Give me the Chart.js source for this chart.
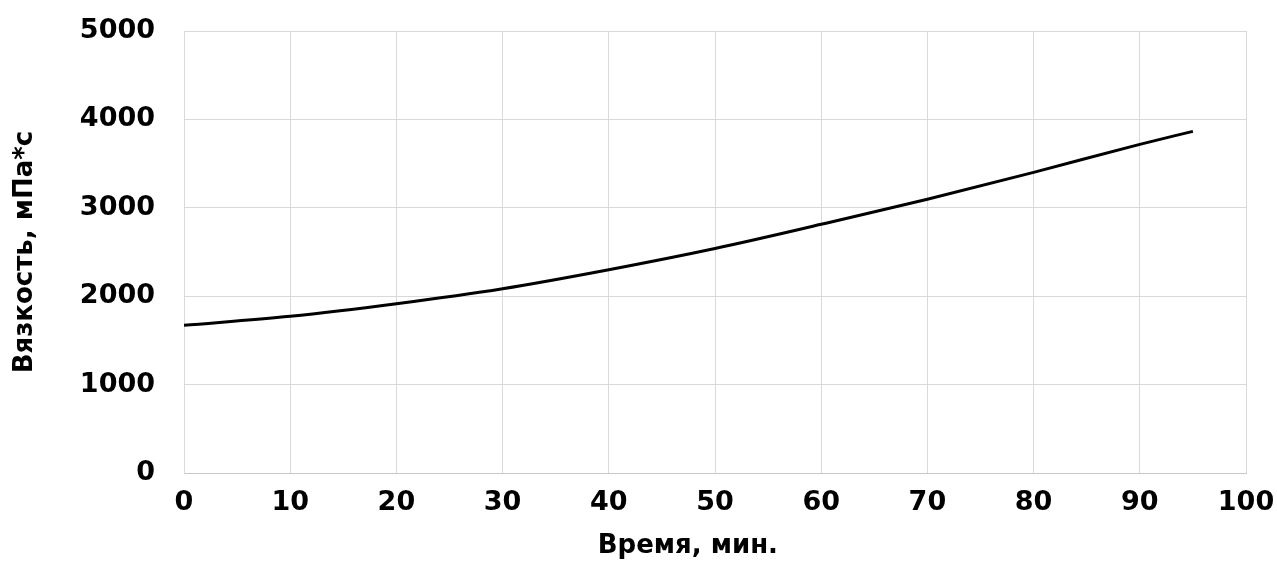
<!DOCTYPE html>
<html>
<head>
<meta charset="utf-8">
<script src="https://cdn.jsdelivr.net/npm/chart.js@4/dist/chart.umd.min.js"></script>
<style>
  html, body { margin: 0; padding: 0; background: #ffffff; }
  canvas { display: block; }
</style>
</head>
<body>
<canvas id="viscChart" width="1277" height="575"></canvas>
<script>
// time, min
var minutes = [0, 10, 20, 30, 40, 50, 60, 70, 80, 90, 95];
// viscosity, mPa*s
var viscosity = [1670, 1772, 1915, 2085, 2300, 2540, 2813, 3096, 3401, 3718, 3865];

var xTicks = [0, 10, 20, 30, 40, 50, 60, 70, 80, 90, 100];
var yTicks = [0, 1000, 2000, 3000, 4000, 5000];

var xTitle = 'Время, мин.';
var yTitle = 'Вязкость, мПа*с';

window.onload = function(){
    var points = minutes.map(function(m, i){ return {x: m, y: viscosity[i]}; });
    var ctx = document.getElementById("viscChart");
    var tickFont = {family: "'DejaVu Sans', sans-serif", size: 27, weight: 'bold'};
    var titleFont = {family: "'DejaVu Sans', sans-serif", size: 26, weight: 'bold'};
    var plain = function(v){ return String(v); };

    new Chart(ctx, {
    type: 'line',
    data: {
        datasets: [
        {
            data: points,
            borderColor: '#000000',
            borderWidth: 3,
            pointRadius: 0,
            fill: false,
            cubicInterpolationMode: 'monotone'
        }
        ]
    },
    options: {
        responsive: false,
        animation: false,
        layout: {padding: {top: 31, right: 31, bottom: 0, left: 0}},
        plugins: {legend: {display: false}, tooltip: {enabled: false}},
        scales: {
            x: {
                type: 'linear',
                min: 0,
                max: 100,
                afterBuildTicks: function(s){ s.ticks = xTicks.map(function(v){ return {value: v}; }); },
                afterFit: function(s){ s.height = 102; s.paddingLeft = 0; s.paddingRight = 0; },
                grid: {color: '#d9d9d9', lineWidth: 1, drawTicks: false},
                border: {color: '#c8c8c8', width: 1},
                ticks: {color: '#000000', font: tickFont, padding: 14, maxRotation: 0, callback: plain},
                title: {display: true, text: xTitle + '      ', color: '#000000', font: titleFont, padding: {top: 0, bottom: 13}}
            },
            y: {
                min: 0,
                max: 5000,
                afterBuildTicks: function(s){ s.ticks = yTicks.map(function(v){ return {value: v}; }); },
                afterFit: function(s){ s.width = 184; s.paddingTop = 0; s.paddingBottom = 0; },
                grid: {color: '#d9d9d9', lineWidth: 1, drawTicks: false},
                border: {color: '#d9d9d9', width: 1},
                ticks: {color: '#000000', font: tickFont, padding: 29, callback: plain},
                title: {display: true, text: yTitle, color: '#000000', font: titleFont, padding: {top: 10, bottom: 0}}
            }
        }
    }
    });
}
</script>
</body>
</html>
